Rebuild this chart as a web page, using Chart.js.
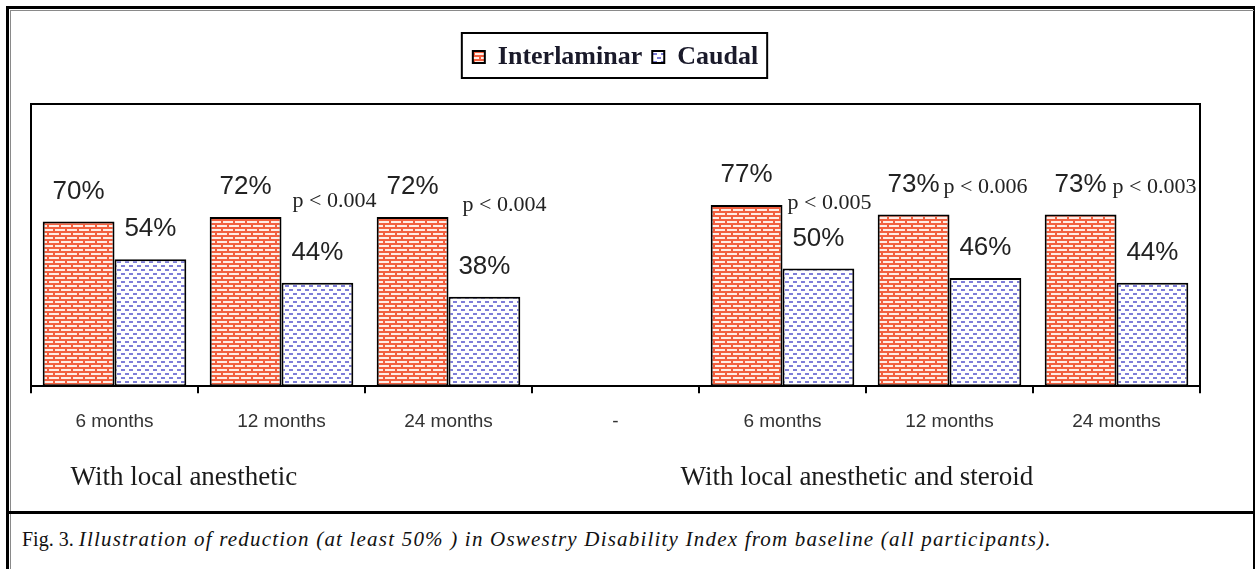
<!DOCTYPE html>
<html>
<head>
<meta charset="utf-8">
<script src="https://cdn.jsdelivr.net/npm/chart.js@4/dist/chart.umd.min.js"></script>
<style>
    html, body { margin: 0; padding: 0; background: #fff; }
    #page { position: relative; width: 1255px; height: 569px; overflow: hidden; background: #fff; }
    .frame-outer { position: absolute; left: 6px; top: 6px; width: 1244px; height: 620px;
        border-left: 3px solid #000; border-top: 3px solid #000; border-right: 2px solid #000; }
    .frame-inner { position: absolute; left: 10px; top: 10px; width: 1243px; height: 620px;
        border-left: 1px solid #8a8a8a; border-top: 1px solid #8a8a8a; }
    .sep { position: absolute; left: 6px; top: 511px; width: 1249px; height: 3px; background: #000; }
    .caption { position: absolute; left: 22px; top: 527px; font: 20px "Liberation Serif", serif; color: #111; white-space: nowrap; }
    .caption i { font-size: 21px; letter-spacing: 1.2px; }
    #wrap { position: absolute; left: 0; top: 0; width: 1255px; height: 569px; }
</style>
</head>
<body>
<div id="page">
    <div class="frame-outer"></div>
    <div class="frame-inner"></div>
    <div class="sep"></div>
    <div class="caption">Fig. 3. <i>Illustration of reduction (at least 50% ) in Oswestry Disability Index from baseline (all participants).</i></div>
    <div id="wrap"><canvas id="odiChart"></canvas></div>
</div>

<script>
// chart values
const periods = ['6 months', '12 months', '24 months', '-', '6 months', '12 months', '24 months'];
const interlaminar = [70, 72, 72, null, 77, 73, 73];
const caudal = [54, 44, 38, null, 50, 46, 44];
const pValues = ['', 'p < 0.004', 'p < 0.004', '', 'p < 0.005', 'p < 0.006', 'p < 0.003'];
const groupNames = ['With local anesthetic', 'With local anesthetic and steroid'];

// fill patterns like the old excel ones
function brickPattern() {
    const c = document.createElement('canvas');
    c.width = 12; c.height = 8;
    const g = c.getContext('2d');
    g.fillStyle = '#F2603F';
    g.fillRect(0, 0, 12, 8);
    g.fillStyle = '#FFEDE6';
    g.fillRect(1, 1, 10, 2);
    g.fillRect(0, 5, 5, 2);
    g.fillRect(7, 5, 5, 2);
    return g.createPattern(c, 'repeat');
}

function dashPattern() {
    const c = document.createElement('canvas');
    c.width = 8; c.height = 8;
    const g = c.getContext('2d');
    g.fillStyle = '#ffffff';
    g.fillRect(0, 0, 8, 8);
    g.fillStyle = '#7E7ED8';
    g.fillRect(1, 1, 4, 2);
    g.fillRect(5, 5, 3, 2);
    g.fillRect(0, 5, 1, 2);
    return g.createPattern(c, 'repeat');
}

// plot frame + legend frame
const framePlugin = {
    id: 'frames',
    beforeInit(chart) {
        const fit = chart.legend.fit;
        chart.legend.fit = function () {
            fit.call(this);
            this.height += 24;
        };
    },
    afterDraw(chart) {
        const { ctx, chartArea } = chart;
        ctx.save();
        ctx.strokeStyle = '#000';
        ctx.lineWidth = 2;
        ctx.beginPath();
        ctx.moveTo(chartArea.left, chartArea.bottom);
        ctx.lineTo(chartArea.left, chartArea.top);
        ctx.lineTo(chartArea.right, chartArea.top);
        ctx.lineTo(chartArea.right, chartArea.bottom);
        ctx.stroke();

        const boxes = chart.legend.legendHitBoxes;
        if (boxes.length) {
            const l = Math.min(...boxes.map(b => b.left)) - 11;
            const r = Math.max(...boxes.map(b => b.left + b.width)) + 9;
            ctx.strokeRect(l, 33, r - l, 45);
        }
        ctx.restore();
    }
};

// value labels, p values and group names
const labelPlugin = {
    id: 'barLabels',
    afterDatasetsDraw(chart) {
        const { ctx } = chart;
        ctx.save();
        ctx.fillStyle = '#222';
        ctx.textAlign = 'center';
        ctx.textBaseline = 'middle';
        ctx.font = '26px "Liberation Sans", Arial, sans-serif';
        chart.data.datasets.forEach((ds, di) => {
            chart.getDatasetMeta(di).data.forEach((bar, i) => {
                if (ds.data[i] == null) return;
                ctx.fillText(ds.data[i] + '%', bar.x, bar.y - 30);
            });
        });

        // p values sit by hand next to the red bars
        const nudge = [null, [11, -16], [14, -12], null, [5, -2], [-6, -27], [-4, -27]];
        const red = chart.getDatasetMeta(0).data;
        ctx.textAlign = 'left';
        ctx.font = '22px "Liberation Serif", serif';
        pValues.forEach((p, i) => {
            if (!p) return;
            const bar = red[i];
            ctx.fillText(p, bar.x + bar.width / 2 + nudge[i][0], bar.y + nudge[i][1]);
        });

        const x = chart.scales.x;
        ctx.font = '27px "Liberation Serif", serif';
        ctx.fillStyle = '#1a1a1a';
        ctx.fillText(groupNames[0], x.getPixelForValue(0) - 44, 478);
        ctx.fillText(groupNames[1], x.getPixelForValue(4) - 102, 478);
        ctx.restore();
    }
};

new Chart(document.getElementById('odiChart'), {
    type: 'bar',
    data: {
        labels: periods,
        datasets: [
            {
                label: 'Interlaminar',
                data: interlaminar,
                backgroundColor: brickPattern(),
                borderColor: '#000',
                borderWidth: 2,
                borderSkipped: false
            },
            {
                label: 'Caudal',
                data: caudal,
                backgroundColor: dashPattern(),
                borderColor: '#000',
                borderWidth: 2,
                borderSkipped: false
            }
        ]
    },
    options: {
        responsive: true,
        maintainAspectRatio: false,
        animation: false,
        categoryPercentage: 0.86,
        barPercentage: 1.0,
        layout: { padding: { left: 31, right: 55, top: 34, bottom: 119 } },
        scales: {
            x: {
                grid: { display: true, drawOnChartArea: false, drawTicks: true, tickLength: 7, color: '#000', lineWidth: 2, offset: true },
                border: { display: true, color: '#000', width: 2 },
                ticks: { color: '#333', font: { family: '"Liberation Sans", Arial, sans-serif', size: 19 }, padding: 17 }
            },
            y: {
                display: false,
                min: 0,
                max: 120
            }
        },
        plugins: {
            legend: {
                position: 'top',
                labels: {
                    color: '#1a1a2a',
                    boxWidth: 12,
                    boxHeight: 12,
                    padding: 10,
                    font: { family: '"Liberation Serif", serif', size: 26, weight: 'bold' }
                }
            },
            tooltip: { enabled: false }
        }
    },
    plugins: [framePlugin, labelPlugin]
});
</script>
</body>
</html>
